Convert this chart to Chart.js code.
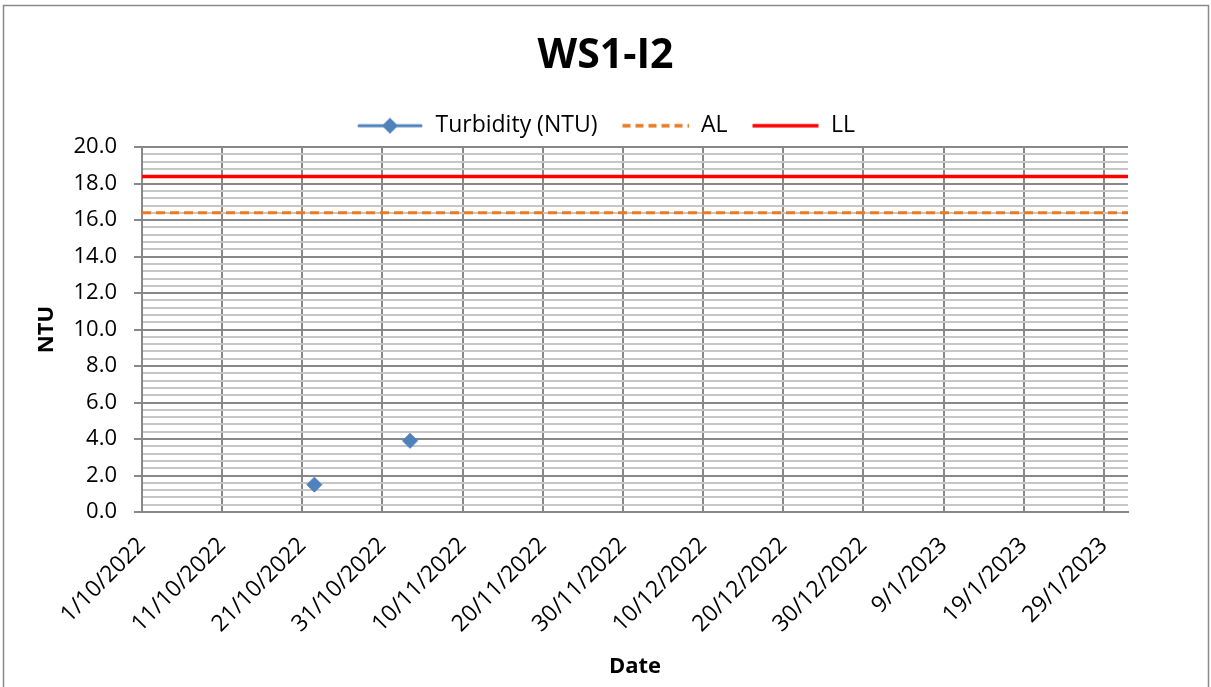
<!DOCTYPE html>
<html>
<head>
<meta charset="utf-8">
<script src="https://cdn.jsdelivr.net/npm/chart.js@4.4.0/dist/chart.umd.min.js"></script>
<style>
  html, body { margin: 0; padding: 0; background: #fff; }
  #wrap { position: relative; width: 1211px; height: 687px; }
</style>
</head>
<body>
<div id="wrap"><canvas id="chart" width="1211" height="687"></canvas></div>
<script>
// axis range and readings
const startDate = '2022-10-01T00:00';
const endDate = '2023-02-01T00:00';
const sampleTimes = ['2022-10-22T12:00', '2022-11-03T10:30'];
const turbidity = [1.5, 3.9];
const alLevel = 16.4;
const llLevel = 18.4;
const xTickLabels = ['1/10/2022', '11/10/2022', '21/10/2022', '31/10/2022', '10/11/2022', '20/11/2022',
    '30/11/2022', '10/12/2022', '20/12/2022', '30/12/2022', '9/1/2023', '19/1/2023', '29/1/2023'];

const FONT = '"Open Sans", "Liberation Sans", sans-serif';
const dayNo = s => (new Date(s) - new Date(startDate)) / 86400000;
const lastDay = dayNo(endDate);
const isMajor = v => Math.abs(v / 2 - Math.round(v / 2)) < 1e-6;

// little pictures for the legend keys
function keySample(draw) {
    const c = document.createElement('canvas');
    c.width = 68; c.height = 18;
    const g = c.getContext('2d');
    draw(g);
    return c;
}
const keyTurbidity = keySample(g => {
    g.strokeStyle = '#4F81BD'; g.lineWidth = 3; g.lineCap = 'round';
    g.beginPath(); g.moveTo(3, 9); g.lineTo(65, 9); g.stroke();
    g.fillStyle = '#4F81BD';
    g.beginPath(); g.moveTo(34, 1); g.lineTo(42, 9); g.lineTo(34, 17); g.lineTo(26, 9); g.closePath(); g.fill();
});
const keyAL = keySample(g => {
    g.strokeStyle = '#E97A25'; g.lineWidth = 3.5; g.setLineDash([8, 5]);
    g.beginPath(); g.moveTo(1, 9); g.lineTo(68, 9); g.stroke();
});
const keyLL = keySample(g => {
    g.strokeStyle = '#FF0000'; g.lineWidth = 3.5;
    g.beginPath(); g.moveTo(1, 9); g.lineTo(67, 9); g.stroke();
});
const keyImages = [keyTurbidity, keyAL, keyLL];

const outerBorder = {
    id: 'outerBorder',
    beforeDraw(chart) {
        const c = chart.ctx;
        c.save();
        c.strokeStyle = '#8a8a8a';
        c.lineWidth = 1.5;
        c.strokeRect(3.5, 5.5, 1205, 700);
        c.restore();
    }
};

const ctx = document.getElementById('chart').getContext('2d');
new Chart(ctx, {
    type: 'scatter',
    data: {
        datasets: [
        {
            label: 'Turbidity (NTU)',
            data: sampleTimes.map((t, i) => ({ x: dayNo(t), y: turbidity[i] })),
            showLine: false,
            pointStyle: 'rectRot',
            pointRadius: 7.5,
            backgroundColor: '#4F81BD',
            borderColor: '#4F81BD',
            borderWidth: 1
        },
        {
            label: 'AL',
            data: [{ x: 0, y: alLevel }, { x: lastDay, y: alLevel }],
            showLine: true,
            borderColor: '#E97A25',
            borderWidth: 3,
            borderDash: [9, 5],
            pointRadius: 0
        },
        {
            label: 'LL',
            data: [{ x: 0, y: llLevel }, { x: lastDay, y: llLevel }],
            showLine: true,
            borderColor: '#FF0000',
            borderWidth: 3.5,
            pointRadius: 0
        }]
    },
    options: {
        responsive: false,
        animation: false,
        events: [],
        layout: { padding: { left: 24, right: 24, top: 5, bottom: 0 } },
        plugins: {
            title: {
                display: true,
                text: 'WS1-I2',
                color: '#000',
                font: { family: FONT, size: 41, weight: 'bold' },
                padding: { top: 27, bottom: 9 }
            },
            legend: {
                display: true,
                labels: {
                    usePointStyle: true,
                    pointStyleWidth: 68,
                    padding: 24,
                    color: '#000',
                    font: { family: FONT, size: 23 },
                    generateLabels: chart => chart.data.datasets.map((ds, i) => ({
                        text: ds.label,
                        pointStyle: keyImages[i],
                        fillStyle: 'transparent',
                        strokeStyle: 'transparent',
                        lineWidth: 0,
                        hidden: false,
                        datasetIndex: i,
                        fontColor: '#000'
                    }))
                }
            },
            tooltip: { enabled: false }
        },
        scales: {
            x: {
                type: 'linear',
                min: 0,
                max: lastDay,
                afterFit: scale => { scale.height = 175; },
                grid: { color: '#888', lineWidth: 2, drawTicks: false },
                border: { display: true, color: '#888', width: 2 },
                ticks: {
                    stepSize: 10,
                    includeBounds: false,
                    autoSkip: false,
                    maxRotation: 45,
                    minRotation: 45,
                    padding: 20,
                    color: '#000',
                    font: { family: FONT, size: 23 },
                    callback: (v, i) => xTickLabels[i]
                },
                title: {
                    display: true,
                    text: 'Date',
                    color: '#000',
                    font: { family: FONT, size: 22, weight: 'bold' },
                    padding: { top: 7, bottom: 7 }
                }
            },
            y: {
                min: 0,
                max: 20,
                afterFit: scale => { scale.width = 118; },
                grid: {
                    color: c => isMajor(c.tick.value) ? '#888' : '#c6c6c6',
                    tickColor: c => isMajor(c.tick.value) ? '#888' : 'rgba(0,0,0,0)',
                    lineWidth: 2,
                    tickLength: 8
                },
                border: { display: true, color: '#888', width: 2 },
                ticks: {
                    stepSize: 0.4,
                    autoSkip: false,
                    padding: 17,
                    color: '#000',
                    font: { family: FONT, size: 22 },
                    callback: v => isMajor(v) ? v.toFixed(1) : ''
                },
                title: {
                    display: true,
                    text: 'NTU',
                    color: '#000',
                    font: { family: FONT, size: 22, weight: 'bold' },
                    padding: { top: 10, bottom: 10 }
                }
            },
            // empty right-hand gutter so the plot ends where the reference's does
            gutter: {
                type: 'linear',
                position: 'right',
                display: true,
                afterFit: scale => { scale.width = 59; },
                grid: { display: false, drawTicks: false },
                border: { display: false },
                ticks: { display: false }
            }
        }
    },
    plugins: [outerBorder]
});
</script>
</body>
</html>
